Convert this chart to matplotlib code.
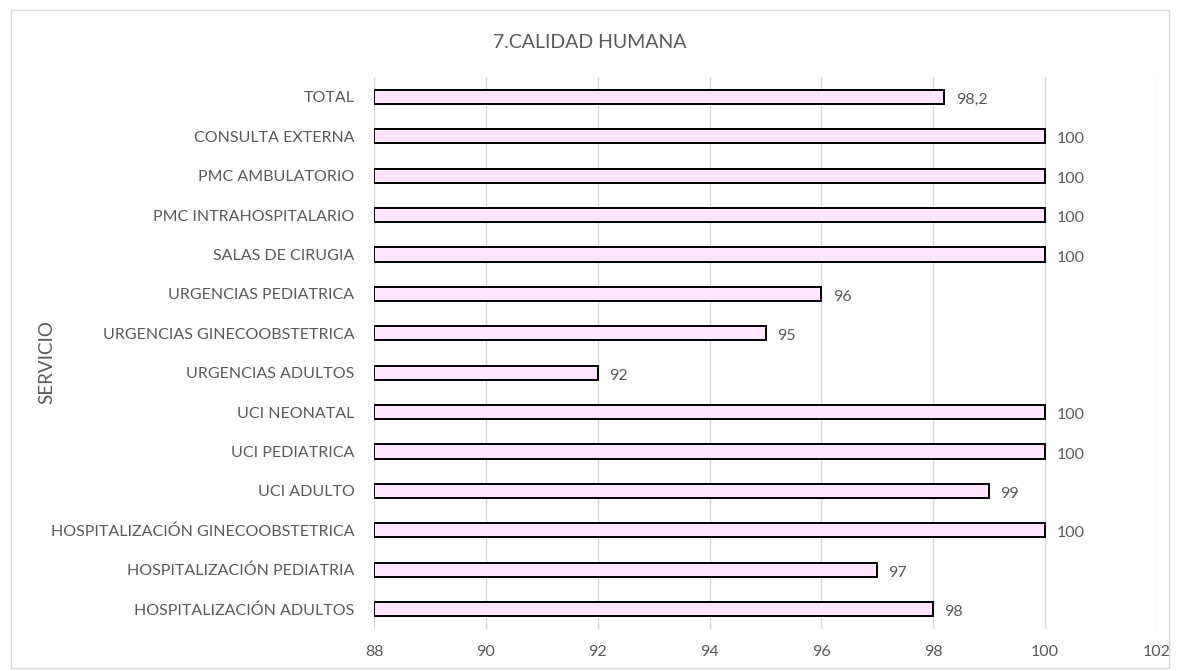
import matplotlib.pyplot as plt
from matplotlib.patches import Rectangle

# data, top to bottom as shown
servicios = [
    "TOTAL",
    "CONSULTA EXTERNA",
    "PMC AMBULATORIO",
    "PMC INTRAHOSPITALARIO",
    "SALAS DE CIRUGIA",
    "URGENCIAS PEDIATRICA",
    "URGENCIAS GINECOOBSTETRICA",
    "URGENCIAS ADULTOS",
    "UCI NEONATAL",
    "UCI PEDIATRICA",
    "UCI ADULTO",
    "HOSPITALIZACIÓN GINECOOBSTETRICA",
    "HOSPITALIZACIÓN PEDIATRIA",
    "HOSPITALIZACIÓN ADULTOS",
]
valores = [98.2, 100, 100, 100, 100, 96, 95, 92, 100, 100, 99, 100, 97, 98]
x_ticks = [88, 90, 92, 94, 96, 98, 100, 102]

plt.rcParams['font.family'] = ['Lato', 'DejaVu Sans']
gris = "#595959"

fig = plt.figure(figsize=(11.8, 6.71), dpi=100)
fig.patches.append(Rectangle((0.009, 0.005), 0.982, 0.98, transform=fig.transFigure,
                             fill=False, edgecolor="#D9D9D9", linewidth=1))
ax = fig.add_axes([0.317, 0.063, 0.6635, 0.822])

y = list(range(len(servicios)))
ax.barh(y, [v - 88 for v in valores], left=88, height=0.36,
        color="#FFE5FF", edgecolor="black", linewidth=1.4, zorder=3)

# value labels next to each bar
for yi, v in zip(y, valores):
    txt = f"{v:g}".replace(".", ",")
    ax.text(v + 0.2, yi + 0.08, txt, va="center", ha="left",
            fontsize=11.5, color=gris)

ax.set_xlim(88, 102)
ax.set_ylim(len(servicios) - 0.5, -0.5)
ax.set_xticks(x_ticks)
ax.set_xticklabels([str(t) for t in x_ticks], fontsize=11.5, color=gris)
ax.set_yticks(y)
ax.set_yticklabels(servicios, fontsize=11.5, color=gris)
ax.tick_params(length=0, pad=14)
ax.tick_params(axis="x", pad=12)
ax.grid(axis="x", color="#D9D9D9", linewidth=1, zorder=0)
ax.set_axisbelow(True)
for s in ax.spines.values():
    s.set_visible(False)

fig.text(0.04, 0.46, "SERVICIO", rotation=90, ha="center", va="center",
         fontsize=13.5, color=gris)
fig.text(0.5, 0.936, "7.CALIDAD HUMANA", ha="center", va="center",
         fontsize=14, color=gris)

fig.savefig("out.png", dpi=100)
